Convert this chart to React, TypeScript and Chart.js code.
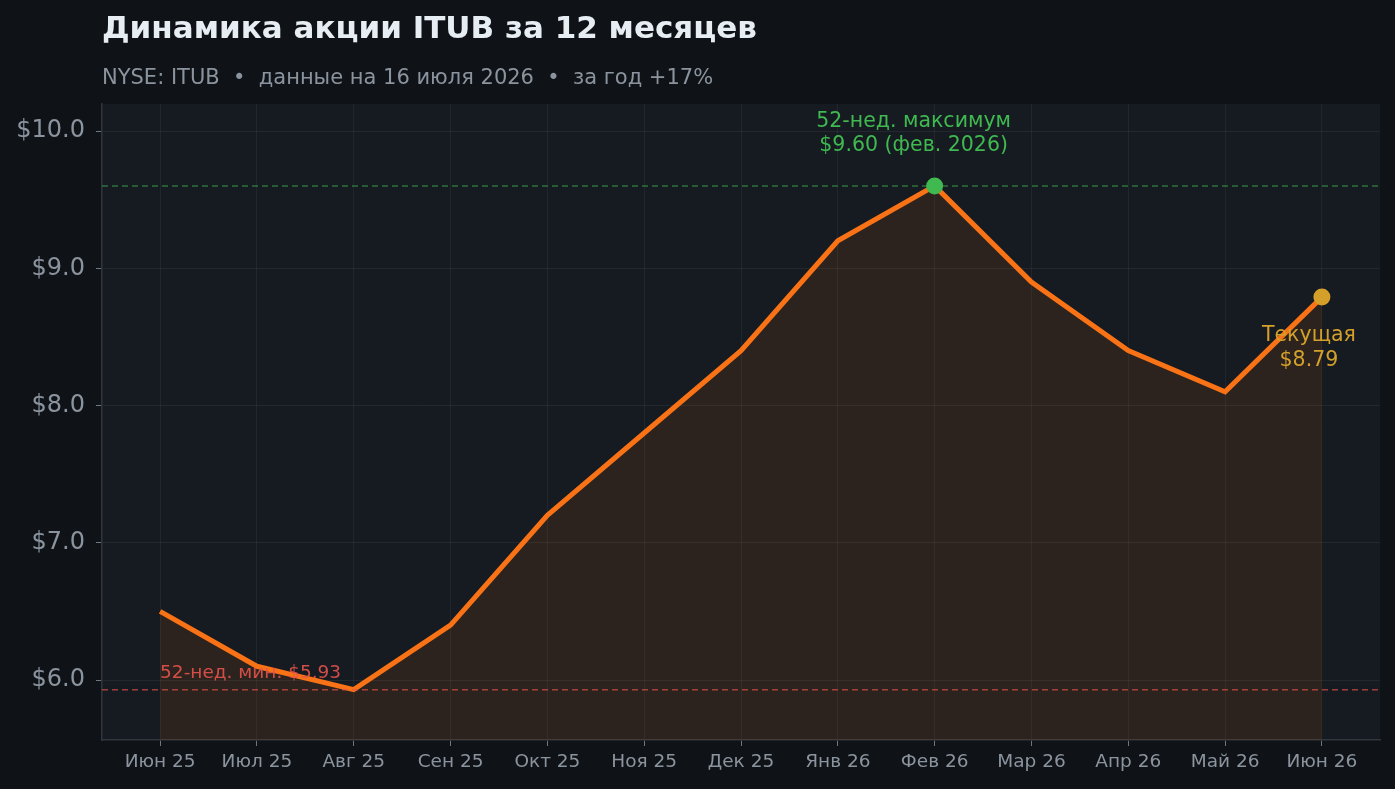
import { Chart, registerables, type ChartConfiguration, type Plugin } from "chart.js";
import { useEffect, useRef } from "react";

Chart.register(...registerables);

const months = [
  "Июн 25", "Июл 25", "Авг 25", "Сен 25", "Окт 25", "Ноя 25", "Дек 25",
  "Янв 26", "Фев 26", "Мар 26", "Апр 26", "Май 26", "Июн 26",
];
const prices = [6.5, 6.1, 5.93, 6.4, 7.2, 7.8, 8.4, 9.2, 9.6, 8.9, 8.4, 8.1, 8.79];
const yTicks = [6, 7, 8, 9, 10];
const high52 = 9.6;
const low52 = 5.93;
const highIndex = 8;
const lastIndex = prices.length - 1;

const FONT = "'DejaVu Sans', sans-serif";
const PAGE_BG = "#0f1317";
const PLOT_BG = "#161a21";
const ORANGE = "#f97316";
const GREEN = "#3fb950";
const GOLD = "#d4a02a";
const MUTED = "#8b949e";

const backgroundPlugin: Plugin<"line"> = {
  id: "backgrounds",
  beforeDraw(chart) {
    const { ctx, chartArea } = chart;
    ctx.save();
    ctx.fillStyle = PAGE_BG;
    ctx.fillRect(0, 0, chart.width, chart.height);
    ctx.fillStyle = PLOT_BG;
    ctx.fillRect(chartArea.left, chartArea.top, chartArea.right - chartArea.left, chartArea.bottom - chartArea.top);
    ctx.restore();
  },
};

const textPlugin: Plugin<"line"> = {
  id: "texts",
  afterDraw(chart) {
    const { ctx } = chart;
    const x = chart.scales.x;
    const y = chart.scales.y;
    ctx.save();

    ctx.textBaseline = "alphabetic";
    ctx.textAlign = "left";
    ctx.fillStyle = "#e6edf3";
    ctx.font = `bold 31px ${FONT}`;
    ctx.fillText("Динамика акции ITUB за 12 месяцев", 102, 38);

    ctx.fillStyle = MUTED;
    ctx.font = `21px ${FONT}`;
    ctx.fillText("NYSE: ITUB  •  данные на 16 июля 2026  •  за год +17%", 102, 84);

    ctx.textBaseline = "middle";

    // 52w high label
    const hx = x.getPixelForValue(highIndex) - 21;
    const hy = y.getPixelForValue(high52);
    ctx.fillStyle = GREEN;
    ctx.font = `20.5px ${FONT}`;
    ctx.textAlign = "center";
    ctx.fillText("52-нед. максимум", hx, hy - 64);
    ctx.fillText("$9.60 (фев. 2026)", hx, hy - 40);

    // current label
    const cx = x.getPixelForValue(lastIndex) - 13;
    const cy = y.getPixelForValue(prices[lastIndex]);
    ctx.fillStyle = GOLD;
    ctx.fillText("Текущая", cx, cy + 39);
    ctx.fillText("$8.79", cx, cy + 64);

    // 52w low label
    ctx.fillStyle = "rgba(229, 83, 75, 0.9)";
    ctx.font = `18.5px ${FONT}`;
    ctx.textAlign = "left";
    ctx.fillText("52-нед. мин. $5.93", x.getPixelForValue(0), y.getPixelForValue(low52) - 16);
    ctx.restore();
  },
};

function buildConfig(): ChartConfiguration<"line"> {
  const span = [-0.6, 12.6];
  return {
    type: "line",
    data: {
      datasets: [
        {
          data: span.map((v) => ({ x: v, y: high52 })),
          borderColor: "rgba(63, 185, 80, 0.55)",
          borderWidth: 1.5,
          borderDash: [6, 4],
          pointRadius: 0,
        },
        {
          data: span.map((v) => ({ x: v, y: low52 })),
          borderColor: "rgba(229, 83, 75, 0.65)",
          borderWidth: 1.5,
          borderDash: [6, 4],
          pointRadius: 0,
        },
        {
          data: prices.map((v, i) => ({ x: i, y: v })),
          borderColor: ORANGE,
          borderWidth: 5,
          backgroundColor: "rgba(249, 115, 22, 0.1)",
          fill: "start",
          tension: 0,
          pointRadius: (ctx) => (ctx.dataIndex === highIndex || ctx.dataIndex === lastIndex ? 8.5 : 0),
          pointBackgroundColor: (ctx) => (ctx.dataIndex === highIndex ? GREEN : GOLD),
          pointBorderWidth: 0,
        },
      ],
    },
    options: {
      responsive: true,
      maintainAspectRatio: false,
      animation: false,
      layout: { padding: { top: 104, right: 15, left: 0, bottom: 0 } },
      plugins: {
        legend: { display: false },
        tooltip: { enabled: false },
      },
      scales: {
        x: {
          type: "linear",
          min: -0.6,
          max: 12.6,
          afterBuildTicks(scale) {
            scale.ticks = months.map((_, i) => ({ value: i }));
          },
          afterFit(scale) {
            scale.height = 49;
          },
          border: { color: "#30363d", width: 1.5 },
          grid: {
            color: "rgba(255, 255, 255, 0.05)",
            tickColor: "#6e7681",
            tickLength: 6,
          },
          ticks: {
            color: MUTED,
            font: { family: FONT, size: 18.5 },
            padding: 5,
            maxRotation: 0,
            autoSkip: false,
            callback: (value) => months[Number(value)] ?? "",
          },
        },
        y: {
          min: 5.563,
          max: 10.197,
          afterBuildTicks(scale) {
            scale.ticks = yTicks.map((v) => ({ value: v }));
          },
          afterFit(scale) {
            scale.width = 102;
          },
          border: { color: "#30363d", width: 1.5 },
          grid: {
            color: "rgba(255, 255, 255, 0.06)",
            tickColor: "#6e7681",
            tickLength: 6,
          },
          ticks: {
            color: MUTED,
            font: { family: FONT, size: 24 },
            padding: 11,
            callback: (value) => `$${Number(value).toFixed(1)}`,
          },
        },
      },
    },
    plugins: [backgroundPlugin, textPlugin],
  };
}

function StockChart() {
  const canvasRef = useRef<HTMLCanvasElement>(null);

  useEffect(() => {
    if (!canvasRef.current) {
      return;
    }
    const chart = new Chart(canvasRef.current, buildConfig());
    return () => {
      chart.destroy();
    };
  }, []);

  return <canvas ref={canvasRef} />;
}

export default function App() {
  useEffect(() => {
    document.body.style.margin = "0";
    document.body.style.background = PAGE_BG;
  }, []);

  return (
    <div style={{ width: "100vw", height: "100vh", position: "relative" }}>
      <StockChart />
    </div>
  );
}
